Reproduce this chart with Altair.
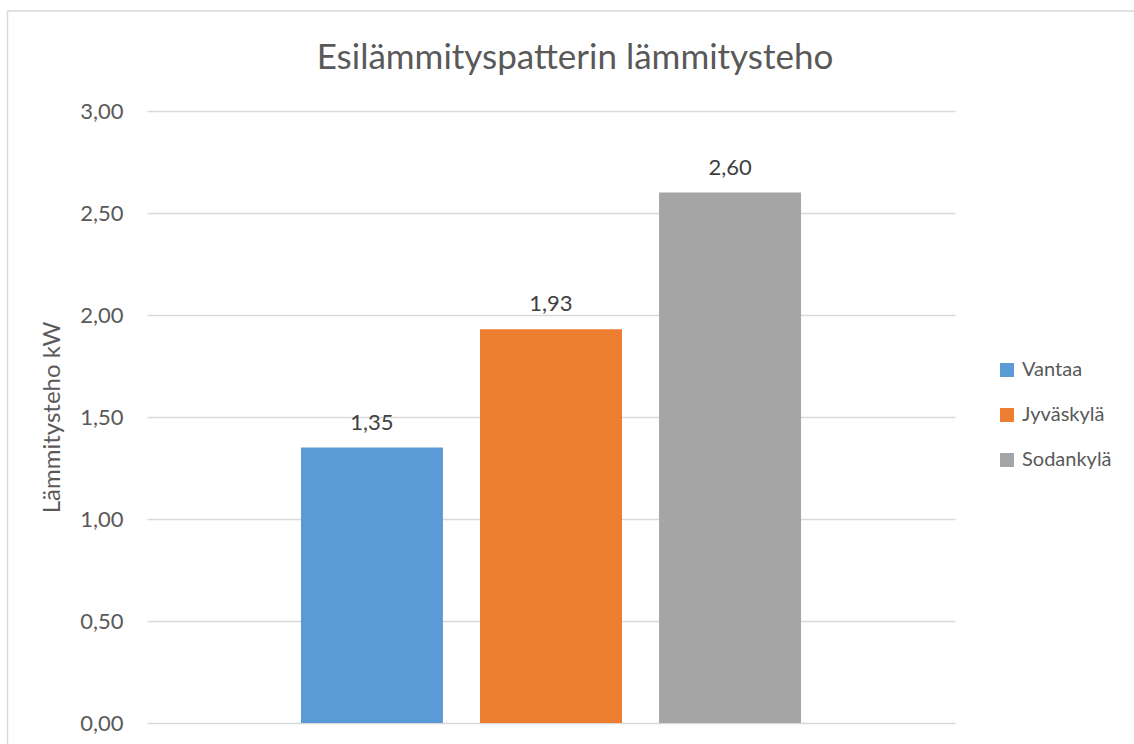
import altair as alt
import pandas as pd

# Preheating coil heating power per location
cities = ["Vantaa", "Jyväskylä", "Sodankylä"]
power_kw = [1.35, 1.93, 2.60]
colors = ["#5B9BD5", "#ED7D31", "#A5A5A5"]
y_ticks = [0.0, 0.5, 1.0, 1.5, 2.0, 2.5, 3.0]
chart_title = "Esilämmityspatterin lämmitysteho"

FONT = "Lato"
TEXT = "#595959"

df = pd.DataFrame({"kaupunki": cities, "teho": power_kw})
df["nimi"] = df["teho"].map(lambda v: f"{v:.2f}".replace(".", ","))

fi_number = "replace(format(datum.value, '.2f'), '.', ',')"

x = alt.X(
    "kaupunki:N",
    sort=cities,
    scale=alt.Scale(paddingInner=0.207, paddingOuter=0.86),
    axis=None,
)
y = alt.Y(
    "teho:Q",
    scale=alt.Scale(domain=[0, 3]),
    axis=alt.Axis(
        values=y_ticks,
        labelExpr=fi_number,
        grid=True,
        gridColor="#D9D9D9",
        gridWidth=1.5,
        domain=False,
        ticks=False,
        labelPadding=24,
        labelFontSize=22,
        labelColor=TEXT,
        labelFont=FONT,
        title="Lämmitysteho kW",
        titleFont=FONT,
        titleFontSize=24,
        titleFontWeight="normal",
        titleColor=TEXT,
        titlePadding=15,
    ),
)

base = alt.Chart(df)

bars = base.mark_bar().encode(
    x=x,
    y=y,
    color=alt.Color(
        "kaupunki:N",
        sort=cities,
        scale=alt.Scale(domain=cities, range=colors),
        legend=alt.Legend(
            title=None,
            orient="none",
            legendX=850,
            legendY=249,
            padding=0,
            symbolType="square",
            symbolSize=196,
            symbolStrokeWidth=0,
            labelFont=FONT,
            labelFontSize=20,
            labelColor=TEXT,
            labelOffset=5,
            rowPadding=25,
        ),
    ),
)

labels = base.mark_text(
    dy=-18, baseline="alphabetic", font=FONT, fontSize=22, color="#404040"
).encode(x=x, y="teho:Q", text="nimi:N")

one_row = alt.Chart(pd.DataFrame({"otsikko": [chart_title]}))

# Outer chart frame
frame = one_row.mark_rect(
    fillOpacity=0, stroke="#D9D9D9", strokeWidth=1.5
).encode(
    x=alt.value(-139.5), x2=alt.value(1300), y=alt.value(-100), y2=alt.value(900)
)

# Chart heading, centred over the whole frame
heading = one_row.mark_text(
    font=FONT, fontSize=35, color=TEXT, align="center", baseline="alphabetic"
).encode(x=alt.value(428), y=alt.value(-42), text="otsikko:N")

chart = (
    alt.layer(frame, bars, labels, heading)
    .properties(
        width=808,
        height=612,
        autosize=alt.AutoSizeParams(type="none"),
        padding={"left": 147, "top": 111, "right": 179, "bottom": 21},
    )
    .configure_view(stroke=None)
)

chart.save("out.html", embed_options={"renderer": "svg", "actions": False})
